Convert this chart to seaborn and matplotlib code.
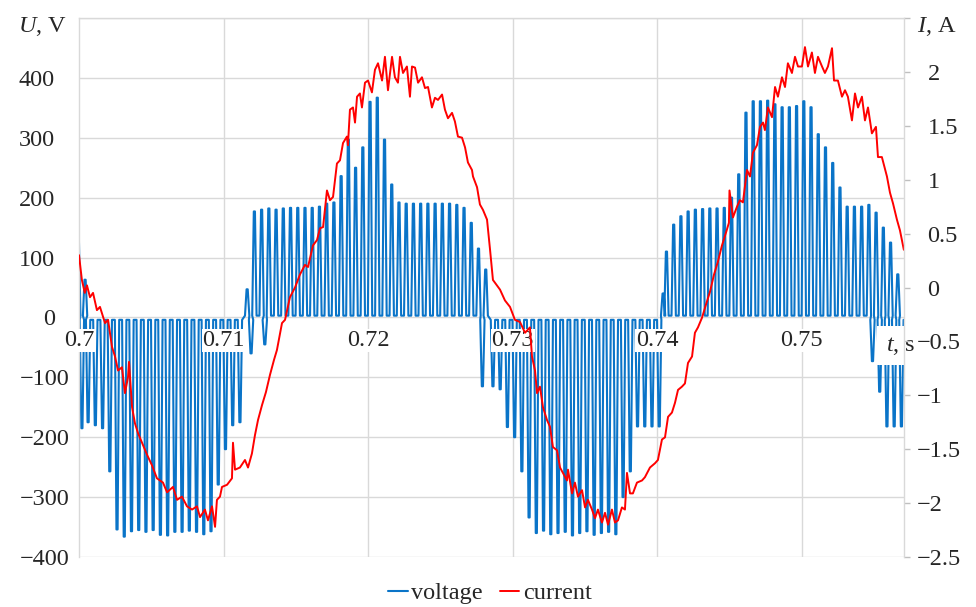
import matplotlib
matplotlib.use("Agg")
import matplotlib.pyplot as plt
import seaborn as sns
import pandas as pd
from matplotlib.transforms import ScaledTranslation

# ---------------- data (times in ms after t = 0.7 s) ----------------
pulse_ms = [-0.05, 0.2, 0.42, 0.63, 1.13, 1.63, 2.13, 2.63, 3.13, 3.63, 4.13, 4.63, 5.13, 5.63,
            6.13, 6.63, 7.13, 7.63, 8.13, 8.63, 9.13, 9.63, 10.13, 10.63, 11.13, 11.63, 11.9,
            12.13, 12.63, 12.85, 13.13, 13.63, 14.13, 14.63, 15.13, 15.63, 16.13, 16.63, 17.13,
            17.63, 18.13, 18.63, 19.13, 19.63, 20.13, 20.63, 21.13, 21.63, 22.13, 22.63, 23.13,
            23.63, 24.13, 24.63, 25.13, 25.63, 26.13, 26.63, 27.13, 27.63, 27.9, 28.13, 28.63,
            29.13, 29.63, 30.13, 30.63, 31.13, 31.63, 32.13, 32.63, 33.13, 33.63, 34.13, 34.63,
            35.13, 35.63, 36.13, 36.63, 37.13, 37.63, 38.13, 38.63, 39.13, 39.63, 40.13, 40.4,
            40.63, 41.13, 41.63, 42.13, 42.63, 43.13, 43.63, 44.13, 44.63, 45.13, 45.63, 46.13,
            46.63, 47.13, 47.63, 48.13, 48.63, 49.13, 49.63, 50.13, 50.63, 51.13, 51.63, 52.13,
            52.63, 53.13, 53.63, 54.13, 54.63, 54.88, 55.13, 55.38, 55.63, 55.88, 56.13, 56.38,
            56.63, 56.88]
pulse_V = [135, -185, 63, -175, -180, -185, -257, -354, -366, -357, -355, -358, -355, -363,
           -364, -358, -358, -356, -358, -362, -357, -279, -220, -180, -175, 47, -60,
           177, 180, -45, 182, 180, 182, 183, 183, 183, 183, 185, 190,
           192, 236, 297, 250, 284, 360, 367, 297, 222, 192, 190, 190,
           190, 190, 190, 190, 190, 188, 183, 158, 115, -115, 80, -115,
           -120, -183, -200, -257, -334, -360, -356, -362, -360, -358, -364, -360,
           -357, -363, -360, -358, -362, -300, -257, -182, -182, -182, -182, 40,
           110, 155, 169, 177, 180, 181, 182, 182, 183, 200, 239, 342,
           361, 361, 362, 356, 351, 351, 353, 361, 351, 306, 284, 258,
           217, 185, 185, 185, 188, -73, 175, -124, 150, -182, 125, -182,
           72, -182]

cur_ms = [0.0, 0.2, 0.4, 0.55, 0.76, 0.97, 1.24, 1.45, 1.80, 2.01,
          2.28, 2.49, 2.70, 2.97, 3.18, 3.39, 3.46, 3.67, 3.87, 4.08,
          4.36, 4.70, 5.05, 5.39, 5.81, 6.09, 6.50, 6.78, 7.12, 7.47,
          7.82, 8.16, 8.37, 8.71, 8.92, 9.20, 9.41, 9.54, 9.75, 9.89,
          10.24, 10.58, 10.65, 10.79, 11.13, 11.48, 11.69, 11.96, 12.17, 12.38,
          12.66, 12.93, 13.21, 13.49, 13.69, 14.04, 14.25, 14.59, 14.94, 15.28,
          15.63, 15.84, 16.18, 16.46, 16.67, 16.88, 17.15, 17.36, 17.57, 17.84,
          18.05, 18.26, 18.53, 18.60, 18.74, 18.95, 19.09, 19.23, 19.43, 19.57,
          19.78, 19.99, 20.26, 20.47, 20.68, 20.96, 21.16, 21.37, 21.65, 21.85,
          22.06, 22.20, 22.41, 22.68, 22.89, 23.03, 23.24, 23.45, 23.72, 23.93,
          24.14, 24.41, 24.62, 24.83, 25.11, 25.31, 25.52, 25.80, 26.00, 26.21,
          26.49, 26.70, 26.90, 27.18, 27.25, 27.53, 27.73, 27.94, 28.22, 28.43,
          28.63, 29.12, 29.46, 29.81, 30.15, 30.50, 30.85, 31.19, 31.33, 31.54,
          31.68, 31.88, 32.09, 32.37, 32.57, 32.78, 33.06, 33.27, 33.47, 33.75,
          33.82, 34.10, 34.30, 34.51, 34.79, 35.00, 35.20, 35.48, 35.69, 35.89,
          36.17, 36.38, 36.59, 36.86, 37.07, 37.28, 37.55, 37.76, 37.90, 38.11,
          38.31, 38.59, 38.94, 39.14, 39.49, 39.84, 40.04, 40.32, 40.53, 40.74,
          41.01, 41.22, 41.43, 41.70, 41.91, 42.12, 42.40, 42.60, 42.81, 43.09,
          43.36, 43.64, 43.92, 44.19, 44.47, 44.75, 44.95, 44.99, 45.23, 45.51,
          45.71, 45.92, 46.20, 46.41, 46.61, 46.89, 47.10, 47.31, 47.44, 47.65,
          47.93, 48.14, 48.34, 48.62, 48.83, 49.03, 49.31, 49.52, 49.73, 50.00,
          50.21, 50.42, 50.69, 50.90, 51.11, 51.39, 51.59, 51.80, 52.08, 52.22,
          52.49, 52.77, 52.98, 53.18, 53.46, 53.67, 53.88, 54.15, 54.36, 54.57,
          54.84, 55.12, 55.26, 55.53, 55.88, 56.09, 56.30, 56.57, 56.78, 57.05]
cur_A = [0.30, 0.07, -0.05, 0.02, -0.09, -0.05, -0.21, -0.18, -0.33, -0.30,
         -0.55, -0.64, -0.77, -0.74, -0.98, -0.83, -0.69, -1.11, -1.26, -1.35,
         -1.44, -1.55, -1.65, -1.77, -1.81, -1.90, -1.85, -1.97, -1.94, -2.03,
         -2.06, -2.03, -2.13, -2.06, -2.16, -2.03, -2.22, -1.97, -1.94, -1.85,
         -1.83, -1.77, -1.44, -1.69, -1.67, -1.60, -1.67, -1.54, -1.37, -1.23,
         -1.09, -0.97, -0.81, -0.67, -0.58, -0.33, -0.30, -0.09, 0.00, 0.12,
         0.21, 0.19, 0.39, 0.44, 0.55, 0.56, 0.90, 0.81, 0.84, 1.15,
         1.18, 1.34, 1.40, 1.32, 1.65, 1.67, 1.53, 1.77, 1.80, 1.67,
         1.90, 1.92, 1.81, 2.02, 2.08, 1.92, 2.14, 1.83, 2.14, 1.95,
         1.90, 2.14, 1.99, 2.05, 1.77, 2.05, 2.04, 1.90, 1.95, 1.85,
         1.86, 1.67, 1.76, 1.74, 1.79, 1.65, 1.57, 1.62, 1.54, 1.40,
         1.39, 1.30, 1.16, 1.09, 1.03, 0.93, 0.77, 0.72, 0.63, 0.35,
         0.07, -0.02, -0.12, -0.18, -0.30, -0.32, -0.42, -0.37, -0.64, -0.77,
         -0.98, -0.92, -1.11, -1.23, -1.29, -1.48, -1.51, -1.67, -1.72, -1.79,
         -1.69, -1.91, -1.81, -1.94, -1.88, -2.04, -1.97, -2.06, -2.14, -2.06,
         -2.18, -2.09, -2.20, -2.06, -2.18, -2.16, -2.04, -2.06, -1.72, -1.91,
         -1.91, -1.81, -1.79, -1.76, -1.67, -1.63, -1.60, -1.41, -1.39, -1.20,
         -1.16, -1.07, -0.95, -0.92, -0.89, -0.70, -0.64, -0.42, -0.37, -0.28,
         -0.16, -0.04, 0.12, 0.24, 0.39, 0.51, 0.60, 0.90, 0.65, 0.75,
         0.81, 0.79, 1.09, 1.03, 1.25, 1.32, 1.49, 1.53, 1.46, 1.67,
         1.58, 1.86, 1.77, 1.95, 1.86, 2.08, 1.99, 2.14, 2.05, 2.05,
         2.23, 2.05, 2.18, 1.99, 2.14, 2.05, 1.99, 2.05, 2.22, 1.92,
         1.92, 1.77, 1.83, 1.77, 1.55, 1.80, 1.67, 1.77, 1.55, 1.67,
         1.43, 1.49, 1.21, 1.21, 1.03, 0.88, 0.78, 0.63, 0.53, 0.35]

series_names = ["voltage", "current"]
t_start = 0.7
x_ticks = [0.70, 0.71, 0.72, 0.73, 0.74, 0.75]
x_ticklabels = ["0.7", "0.71", "0.72", "0.73", "0.74", "0.75"]
x_max = 0.75706
u_ticks = [-400, -300, -200, -100, 0, 100, 200, 300, 400, 500]
u_ticklabels = ["\u2212400", "\u2212300", "\u2212200", "\u2212100", "0", "100", "200", "300", "400", ""]
i_ticks = [-2.5, -2.0, -1.5, -1.0, -0.5, 0.0, 0.5, 1.0, 1.5, 2.0, 2.5]
i_ticklabels = ["\u22122.5", "\u22122", "\u22121.5", "\u22121", "\u22120.5", "0", "0.5", "1", "1.5", "2", ""]

assert len(pulse_ms) == len(pulse_V) and len(cur_ms) == len(cur_A)

# ---------------- style ----------------
sns.set_style("white")
plt.rcParams["font.family"] = ["Liberation Serif", "DejaVu Serif"]
plt.rcParams["mathtext.fontset"] = "custom"
plt.rcParams["mathtext.rm"] = "Liberation Serif"
plt.rcParams["mathtext.it"] = "Liberation Serif:italic"
FS = 17.5
BLUE = "#0A74C8"
RED = "#FF0000"
GRID = "#D9D9D9"

# build the pulse-train polyline from pulse peak list
half_base, half_top = 0.15, 0.04
t_v, u_v = [], []
for tc, pk in zip(pulse_ms, pulse_V):
    base = 3 if pk > 0 else -4
    for dt, val in ((-half_base, base), (-half_top, pk), (half_top, pk), (half_base, base)):
        t_v.append(t_start + (tc + dt) / 1000.0)
        u_v.append(val)
df_u = pd.DataFrame({"t": t_v, "U": u_v})
df_i = pd.DataFrame({"t": [t_start + m / 1000.0 for m in cur_ms], "I": cur_A})

fig = plt.figure(figsize=(9.76, 6.07), dpi=100)
ax = fig.add_axes([79 / 976, 1 - 557 / 607, 825 / 976, 539 / 607])

sns.lineplot(data=df_u, x="t", y="U", ax=ax, color=BLUE, lw=1.5, sort=False,
             estimator=None, label=series_names[0], legend=False)
ax.set_xlim(t_start, x_max)
ax.set_ylim(-400, 500)
ax.set_xlabel("")
ax.set_ylabel("")

# grid
ax.grid(axis="y", color=GRID, lw=1.0)
ax.grid(axis="x", visible=False)
for xt in x_ticks[1:]:
    ax.axvline(xt, color=GRID, lw=1.0, zorder=0.5)

for side in ["left", "top"]:
    ax.spines[side].set_color(GRID)
    ax.spines[side].set_linewidth(1.0)
ax.spines["right"].set_visible(False)
ax.spines["bottom"].set_position(("data", 0))
ax.spines["bottom"].set_visible(False)

ax.set_xticks(x_ticks)
ax.set_xticklabels(x_ticklabels, fontsize=FS)
ax.set_yticks(u_ticks)
ax.set_yticklabels(u_ticklabels, fontsize=FS)
ax.tick_params(axis="x", length=0, pad=9)
ax.tick_params(axis="y", length=0, pad=6.5)
ax.xaxis.set_zorder(3)
for lab in ax.get_xticklabels():
    lab.set_bbox(dict(facecolor="white", edgecolor="none", pad=0.5))
for lab, val in zip(ax.get_yticklabels(), u_ticks):
    if val >= 0:
        lab.set_transform(lab.get_transform() + ScaledTranslation(-0.15, 0, fig.dpi_scale_trans))

ax.text(t_start + (x_max - t_start) * 0.9955, -47, r"$t$, s", fontsize=FS, ha="center",
        va="center", zorder=4, clip_on=False,
        bbox=dict(facecolor="white", edgecolor="none", pad=6))

# current axis
ax2 = ax.twinx()
sns.lineplot(data=df_i, x="t", y="I", ax=ax2, color=RED, lw=1.4, sort=False,
             estimator=None, label=series_names[1], legend=False)
ax2.set_ylim(-2.5, 2.5)
ax2.set_ylabel("")
ax2.grid(False)
for side in ["left", "top", "bottom"]:
    ax2.spines[side].set_visible(False)
ax2.spines["right"].set_color(GRID)
ax2.spines["right"].set_linewidth(1.0)
ax2.set_yticks(i_ticks)
ax2.set_yticklabels(i_ticklabels, fontsize=FS)
ax2.tick_params(axis="y", direction="out", length=4, width=1.0, color="#BFBFBF", pad=5)
for lab, val in zip(ax2.get_yticklabels(), i_ticks):
    if val >= 0:
        lab.set_transform(lab.get_transform() + ScaledTranslation(0.11, 0, fig.dpi_scale_trans))

fig.text(67 / 976, 1 - 26 / 607, r"$U$, V", fontsize=FS, ha="right", va="center")
fig.text(917 / 976, 1 - 26 / 607, r"$I$, A", fontsize=FS, ha="left", va="center")

fig.legend(handles=[ax.lines[0], ax2.lines[0]], labels=series_names, loc="center",
           bbox_to_anchor=(490 / 976, 1 - 593 / 607), ncol=2, frameon=False, fontsize=FS,
           handlelength=0.8, handletextpad=0.15, columnspacing=0.7)

fig.savefig("out.png", dpi=100)
